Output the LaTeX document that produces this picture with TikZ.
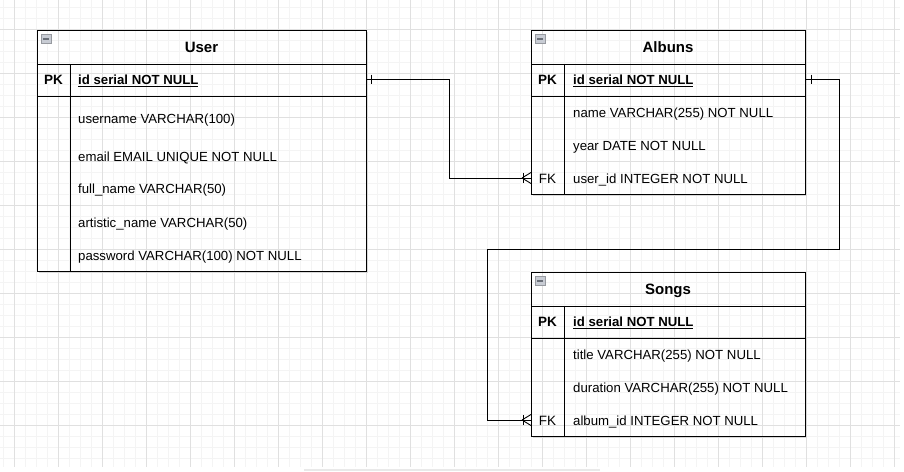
\documentclass[tikz,border=0pt]{standalone}
\usepackage{fontspec}
\setmainfont{Liberation Sans}
\definecolor{gridminor}{HTML}{F4F4F4}
\definecolor{gridmajor}{HTML}{E0E0E0}
\definecolor{iconfill}{HTML}{C8CCD4}
\definecolor{icondark}{HTML}{6A6F78}
\tikzset{
  tbl/.style={draw=black, line width=1pt, inner sep=0pt, outer sep=0pt, anchor=north west},
  sepline/.style={draw=black, line width=0.9pt},
  shadowline/.style={draw=gray!30, line width=1pt},
  rowtext/.style={inner sep=0pt, anchor=west, text height=9.3pt, text depth=0pt, font=\fontsize{13.2}{15}\selectfont},
  keytext/.style={inner sep=0pt, anchor=center, text height=9.3pt, text depth=0pt, font=\fontsize{13.5}{15}\selectfont},
  headtext/.style={inner sep=0pt, anchor=center, text height=10.7pt, text depth=0pt, font=\fontsize{15}{17}\selectfont\bfseries},
  conn/.style={draw=black, line width=0.9pt},
  pics/crowfoot/.style={code={
    \draw[conn] (-8,-5) -- (-8,5);
    \draw[conn] (-9,0) -- (0,-5.5);
    \draw[conn] (-9,0) -- (0,5.5);
  }},
  pics/onebar/.style={code={
    \draw[conn] (0,-4.5) -- (0,4.5);
  }},
  pics/collapseicon/.style={code={
    \draw[draw=icondark!70, fill=iconfill, line width=0.6pt] (0,0) rectangle (10,9);
    \draw[icondark, line width=1.6pt] (2,4.5) -- (8,4.5);
  }}
}
\begin{document}
\begin{tikzpicture}[x=1pt,y=-1pt]
\useasboundingbox (0,0) rectangle (904,471);
\fill[white] (0,0) rectangle (904,471);
% grid
\foreach \k in {0,...,81}{\draw[gridminor, line width=0.8pt] ({3.3+11*\k},0) -- ({3.3+11*\k},467);}
\foreach \k in {0,...,41}{\draw[gridminor, line width=0.8pt] (0,{7.3+11*\k}) -- (900,{7.3+11*\k});}
\foreach \k in {0,...,20}{\draw[gridmajor, line width=0.8pt] ({14.3+44*\k},0) -- ({14.3+44*\k},467);}
\foreach \k in {0,...,9}{\draw[gridmajor, line width=0.8pt] (0,{29.3+44*\k}) -- (900,{29.3+44*\k});}
\fill[gridmajor!70] (304,468.5) rectangle (600,471);

% ---------- User ----------
\draw[shadowline] (38.5,272.6) -- (367.3,272.6) -- (367.3,31.5);
\node[tbl, minimum width=329pt, minimum height=241pt] (user) at (37,30) {};
\draw[sepline] (37,64) -- (366,64);
\draw[sepline] (37,96) -- (366,96);
\draw[sepline] (70,64) -- (70,271);
\pic at (41,34.5) {collapseicon};
\node[headtext] (userhead) at (201.5,47.5) {User};
\node[keytext, font=\fontsize{13.5}{15}\selectfont\bfseries] (userpkkey) at (53.5,80) {PK};
\node[rowtext, font=\fontsize{13.2}{15}\selectfont\bfseries] (userpk) at (78,80) {\underline{id serial NOT NULL}};
\node[rowtext] (userr1) at (78,118.5) {username VARCHAR(100)};
\node[rowtext] (userr2) at (78,156.5) {email EMAIL UNIQUE NOT NULL};
\node[rowtext] (userr3) at (78,188.5) {full\_name VARCHAR(50)};
\node[rowtext] (userr4) at (78,222.5) {artistic\_name VARCHAR(50)};
\node[rowtext] (userr5) at (78,255.5) {password VARCHAR(100) NOT NULL};

% ---------- Albuns ----------
\draw[shadowline] (532.5,195.6) -- (806.3,195.6) -- (806.3,31.5);
\node[tbl, minimum width=274pt, minimum height=164pt] (albuns) at (531,30) {};
\draw[sepline] (531,64) -- (805,64);
\draw[sepline] (531,96) -- (805,96);
\draw[sepline] (564,64) -- (564,194);
\pic at (535,34.5) {collapseicon};
\node[headtext] (albhead) at (668,47.5) {Albuns};
\node[keytext, font=\fontsize{13.5}{15}\selectfont\bfseries] (albpkkey) at (547.5,80) {PK};
\node[rowtext, font=\fontsize{13.2}{15}\selectfont\bfseries] (albpk) at (573,80) {\underline{id serial NOT NULL}};
\node[rowtext] (albr1) at (573,112.5) {name VARCHAR(255) NOT NULL};
\node[rowtext] (albr2) at (573,145.5) {year DATE NOT NULL};
\node[keytext] (albfkkey) at (547.5,178.5) {FK};
\node[rowtext] (albr3) at (573,178.5) {user\_id INTEGER NOT NULL};

% ---------- Songs ----------
\draw[shadowline] (532.5,437.6) -- (806.3,437.6) -- (806.3,273.5);
\node[tbl, minimum width=274pt, minimum height=164pt] (songs) at (531,272) {};
\draw[sepline] (531,306) -- (805,306);
\draw[sepline] (531,338) -- (805,338);
\draw[sepline] (564,306) -- (564,436);
\pic at (535,276.5) {collapseicon};
\node[headtext] (songhead) at (668,289.5) {Songs};
\node[keytext, font=\fontsize{13.5}{15}\selectfont\bfseries] (songpkkey) at (547.5,322) {PK};
\node[rowtext, font=\fontsize{13.2}{15}\selectfont\bfseries] (songpk) at (573,322) {\underline{id serial NOT NULL}};
\node[rowtext] (songr1) at (573,354.5) {title VARCHAR(255) NOT NULL};
\node[rowtext] (songr2) at (573,387.5) {duration VARCHAR(255) NOT NULL};
\node[keytext] (songfkkey) at (547.5,420.5) {FK};
\node[rowtext] (songr3) at (573,420.5) {album\_id INTEGER NOT NULL};

% ---------- connectors ----------
\coordinate (userpkr) at (user.east |- 0,79);
\coordinate (albfkl) at (albuns.west |- 0,178);
\coordinate (albpkr) at (albuns.east |- 0,79);
\coordinate (songfkl) at (songs.west |- 0,420);
\draw[conn] (userpkr) -- (449,79) -- (449,178) -- (albfkl);
\pic at (371,79) {onebar};
\pic at (albfkl) {crowfoot};
\draw[conn] (albpkr) -- (839,79) -- (839,249) -- (487,249) -- (487,420) -- (songfkl);
\pic at (811,79) {onebar};
\pic at (songfkl) {crowfoot};
\end{tikzpicture}
\end{document}
